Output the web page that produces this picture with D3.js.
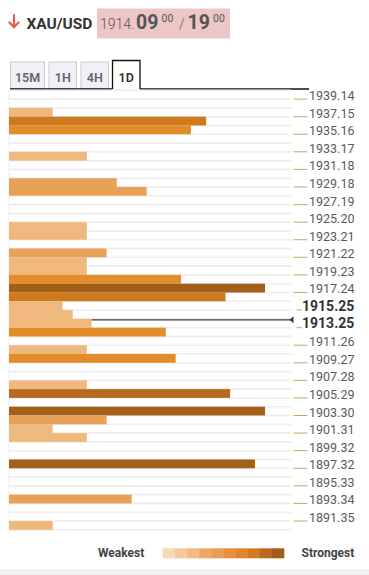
<!DOCTYPE html>
<html>
<head>
<meta charset="utf-8">
<script src="https://cdnjs.cloudflare.com/ajax/libs/d3/7.8.5/d3.min.js"></script>
<style>
  body { margin: 0; background: #fff; }
  svg { display: block; font-family: Roboto, "Noto Sans", sans-serif; }
</style>
</head>
<body>
<div class="canvas"></div>
<script>
// header values
const pair = "XAU/USD";
const bidBig = "1914.", bidPips = "09", bidFrac = "00";
const askPips = "19", askFrac = "00";
const currentPrice = 1914.14;

// timeframe tabs
const timeframes = ["15M", "1H", "4H", "1D"];
const activeFrame = "1D";

// price scale labels (right side)
const priceLabels = [1939.14, 1937.15, 1935.16, 1933.17, 1931.18, 1929.18, 1927.19, 1925.20,
  1923.21, 1921.22, 1919.23, 1917.24, 1915.25, 1913.25, 1911.26, 1909.27, 1907.28, 1905.29,
  1903.30, 1901.31, 1899.32, 1897.32, 1895.33, 1893.34, 1891.35];
const boldLabels = [1915.25, 1913.25];

// confluence levels and their strength (0-100)
const levels = [1937.65, 1936.65, 1935.66, 1932.67, 1929.68, 1928.69, 1924.70, 1923.71,
  1921.72, 1920.72, 1919.72, 1918.73, 1917.73, 1916.74, 1915.74, 1914.74, 1913.75, 1912.75,
  1910.76, 1909.77, 1906.78, 1905.79, 1903.80, 1902.80, 1901.81, 1900.81, 1897.82, 1893.84, 1890.85];
const strengths = [15.5, 69.9, 64.5, 27.6, 38.2, 48.8, 27.6, 27.6,
  34.6, 27.6, 27.6, 61.0, 90.8, 76.8, 19.0, 22.6, 29.3, 55.6,
  27.6, 59.1, 27.6, 78.4, 90.8, 34.6, 15.5, 27.6, 87.2, 43.5, 15.5];

// colors
const barColors = ["#efb87c", "#e8a257", "#e28c2a", "#d0791c", "#b56a1d", "#a35e17"];
const legendColors = ["#f6d9b6", "#f3ca9b", "#f0ba81", "#eca968", "#e99c53", "#e5903d",
  "#e0852a", "#d17a1f", "#b86b1d", "#9f5d17"];

const w = 369, h = 575;
const chart = { left: 9, right: 291 };

const svg = d3.select(".canvas").append("svg").attr("width", w).attr("height", h);

// ---- header ----
const arrow = svg.append("g").attr("stroke", "#e1604c").attr("stroke-width", 2.2)
  .attr("fill", "none").attr("stroke-linecap", "round");
arrow.append("line").attr("x1", 14).attr("x2", 14).attr("y1", 15).attr("y2", 27);
arrow.append("path").attr("d", "M9.5,22.5 L14,27.2 L18.5,22.5");

svg.append("text").attr("x", 26.5).attr("y", 28.5)
  .attr("font-size", 15.5).attr("font-weight", 700).attr("fill", "#333").text(pair);

svg.append("rect").attr("x", 97).attr("y", 8.5).attr("width", 133).attr("height", 30).attr("fill", "#edc6c6");

const quote = svg.append("g").attr("fill", "#555");
quote.append("text").attr("x", 100).attr("y", 28.5).attr("font-size", 14).attr("font-weight", 300).text(bidBig);
quote.append("text").attr("x", 136).attr("y", 28.5).attr("font-size", 19.5).attr("font-weight", 700).text(bidPips);
quote.append("text").attr("x", 161.5).attr("y", 21.5).attr("font-size", 10.5).text(bidFrac);
quote.append("text").attr("x", 179).attr("y", 28.5).attr("font-size", 14).attr("font-weight", 300).text("/");
quote.append("text").attr("x", 187.5).attr("y", 28.5).attr("font-size", 19.5).attr("font-weight", 700).text(askPips);
quote.append("text").attr("x", 213).attr("y", 21.5).attr("font-size", 10.5).text(askFrac);

// ---- tabs ----
const tabWidths = [35, 28.5, 28.5, 27.5];
let tx = 10;
const tabs = timeframes.map((t, i) => {
  const o = { name: t, x: tx, w: tabWidths[i] };
  tx += tabWidths[i] + 3.5;
  return o;
});
const tabG = svg.append("g");
tabs.forEach(t => {
  const active = t.name === activeFrame;
  if (active) {
    tabG.append("path")
      .attr("d", `M${t.x},89 V60.5 H${t.x + t.w} V89`)
      .attr("fill", "#fff").attr("stroke", "#111").attr("stroke-width", 1.3);
  } else {
    tabG.append("rect").attr("x", t.x + 0.5).attr("y", 62).attr("width", t.w - 1).attr("height", 26.5)
      .attr("fill", "#f0f0f6").attr("stroke", "#c9c9cf").attr("stroke-width", 1);
  }
  tabG.append("text").attr("x", t.x + t.w / 2).attr("y", 81.5).attr("text-anchor", "middle")
    .attr("font-size", 12.5).attr("font-weight", 600).attr("fill", active ? "#333" : "#666").text(t.name);
});
const act = tabs.find(t => t.name === activeFrame);
svg.append("line").attr("x1", 10).attr("x2", act.x).attr("y1", 89).attr("y2", 89).attr("stroke", "#111").attr("stroke-width", 1.3);
svg.append("line").attr("x1", act.x + act.w).attr("x2", 309).attr("y1", 89).attr("y2", 89).attr("stroke", "#111").attr("stroke-width", 1.3);

// ---- scales ----
const first = priceLabels[0], last = priceLabels[priceLabels.length - 1];
const y = d3.scaleLinear().domain([first, last]).range([99.1, 521]);
const step = (first - last) / ((priceLabels.length - 1) * 2); // two rows per label
const x = d3.scaleLinear().domain([0, 100]).range([chart.left, chart.right]);
const color = d3.scaleThreshold().domain([30, 52, 68, 78, 85]).range(barColors);

// row grid lines
const rowEdges = d3.range((priceLabels.length - 1) * 2 + 3).map(i => first + step - i * step);
svg.append("g").selectAll("line").data(rowEdges).enter().append("line")
  .attr("x1", chart.left).attr("x2", chart.right)
  .attr("y1", d => y(d)).attr("y2", d => y(d))
  .attr("stroke", "#ededf1").attr("stroke-width", 1.6);
svg.append("line").attr("x1", chart.left).attr("x2", chart.left)
  .attr("y1", y(first + step)).attr("y2", y(last - step))
  .attr("stroke", "#eeeeee");

// current price line (behind bars)
svg.append("line").attr("x1", chart.left).attr("x2", chart.right)
  .attr("y1", y(currentPrice)).attr("y2", y(currentPrice))
  .attr("stroke", "#2c3e50").attr("stroke-width", 1.2);

// bars
const bars = levels.map((p, i) => ({ price: p, strength: strengths[i] }));
svg.append("g").selectAll("rect").data(bars).enter().append("rect")
  .attr("x", x(0))
  .attr("y", d => y(d.price + step / 2))
  .attr("width", d => x(d.strength) - x(0))
  .attr("height", d => y(d.price - step / 2) - y(d.price + step / 2))
  .attr("fill", d => color(d.strength));

// marker for current price
const cy = y(currentPrice);
svg.append("path").attr("d", `M${chart.right - 1.5},${cy} L${chart.right + 2.5},${cy - 3.5} L${chart.right + 2.5},${cy + 3.5} Z`)
  .attr("fill", "#2c3e50");

// price labels
const labels = svg.append("g").selectAll("g").data(priceLabels).enter().append("g");
labels.append("line")
  .attr("x1", d => boldLabels.includes(d) ? 296.5 : 293.5).attr("x2", d => boldLabels.includes(d) ? 302 : 307.5)
  .attr("y1", d => y(d)).attr("y2", d => y(d))
  .attr("stroke", "#c9a46c").attr("stroke-width", 1);
labels.append("text")
  .attr("x", d => boldLabels.includes(d) ? 302 : 309)
  .attr("y", d => y(d) + (boldLabels.includes(d) ? 0.5 : 1))
  .attr("font-size", d => boldLabels.includes(d) ? 14 : 12.5)
  .attr("font-weight", d => boldLabels.includes(d) ? 700 : 400)
  .attr("fill", d => boldLabels.includes(d) ? "#333" : "#5a5a5a")
  .text(d => d3.format(".2f")(d));

// ---- legend ----
svg.append("text").attr("x", 98).attr("y", 556.5).attr("font-size", 12).attr("font-weight", 700)
  .attr("fill", "#444").text("Weakest");
const lx = d3.scaleBand().domain(d3.range(legendColors.length)).range([162.7, 284]);
svg.append("g").selectAll("rect").data(legendColors).enter().append("rect")
  .attr("x", (d, i) => lx(i)).attr("y", 548.3)
  .attr("width", lx.bandwidth() + 0.3).attr("height", 10)
  .attr("fill", d => d);
svg.append("text").attr("x", 301.5).attr("y", 556.5).attr("font-size", 12).attr("font-weight", 700)
  .attr("fill", "#444").text("Strongest");

svg.append("rect").attr("x", 0).attr("y", 569).attr("width", w).attr("height", 6).attr("fill", "#f2f2f7");
</script>
</body>
</html>
